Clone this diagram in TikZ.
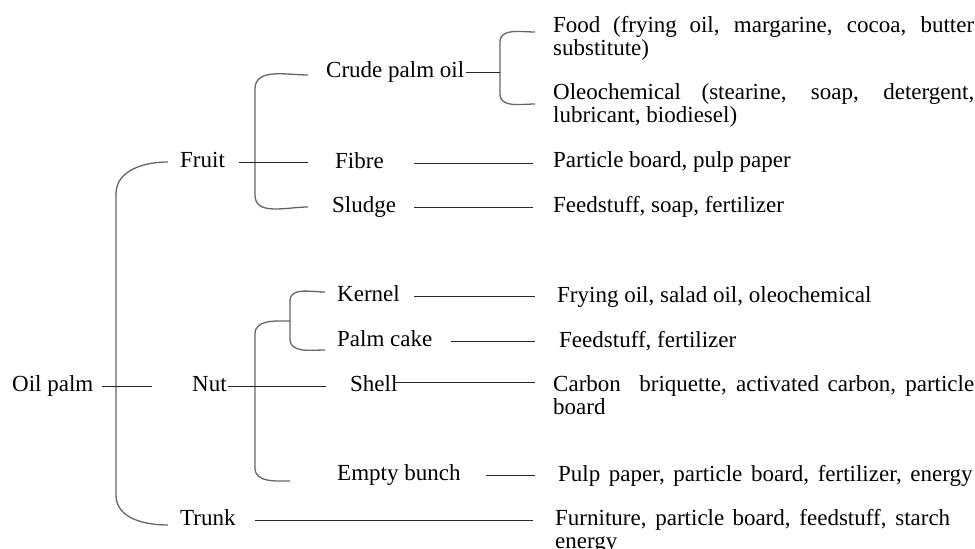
\documentclass[tikz,border=0pt]{standalone}
\usepackage{fontspec}
\setmainfont{Liberation Serif}
\hyphenpenalty=10000
\exhyphenpenalty=10000

\begin{document}
\begin{tikzpicture}[x=1pt,y=-1pt,
	txt/.style={anchor=base west,inner sep=0pt,font=\fontsize{23}{23}\selectfont},
	lbl/.style={txt,text height=15pt,text depth=5pt},
	desc/.style={txt,text width=#1,align=justify},
	link/.style={draw=black!85,line width=0.9pt},
	brace/.style={draw=black!60,line width=1.3pt}]
		\useasboundingbox (0,0) rectangle (975,549);
		% left side
		\node[lbl] (oilpalm) at (12,391) {Oil palm};
		\node[lbl] (fruit) at (180,167) {Fruit};
		\node[lbl] (nut) at (192,391) {Nut};
		\node[lbl] (trunk) at (180,525) {Trunk};
		\node[lbl] (crude) at (326,77) {Crude palm oil};
		\node[lbl] (fibre) at (335,168) {Fibre};
		\node[lbl] (sludge) at (332,212) {Sludge};
		\node[lbl] (kernel) at (337,301) {Kernel};
		\node[lbl] (palmcake) at (337,346) {Palm cake};
		\node[lbl] (shell) at (350,391) {Shell};
		\node[lbl] (bunch) at (337,480) {Empty bunch};
		% products
		\node[desc=421pt] (food) at (553,32) {Food (frying oil, margarine, cocoa, butter substitute)};
		\node[desc=421pt] (oleo) at (553,99) {Oleochemical (stearine, soap, detergent, lubricant, biodiesel)};
		\node[lbl] (particle) at (553,167) {Particle board, pulp paper};
		\node[lbl] (feedsoap) at (553,212) {Feedstuff, soap, fertilizer};
		\node[lbl] (frying) at (557,302) {Frying oil, salad oil, oleochemical};
		\node[lbl] (feedfert) at (559,347) {Feedstuff, fertilizer};
		\node[desc=421pt] (carbon) at (553,391) {Carbon\hspace{10pt} briquette, activated carbon, particle board};
		\node[lbl] (pulp) at (558,481) {\spaceskip=8.6pt Pulp paper, particle board, fertilizer, energy};
		\node[desc=395pt] (furniture) at (555,525) {Furniture, particle board, feedstuff, starch energy};
		% brackets
		\draw[brace] ([xshift=-12]fruit.west) to[out=180,in=90] ++(-52,32) -- ([shift={(-64,-25)}]trunk.west) to[out=-90,in=180] ([shift={(-12,5)}]trunk.west);
		\draw[brace] ([shift={(-18,3)}]crude.west) to[out=180,in=90] ++(-53,14) -- ([shift={(-77,-12)}]sludge.west) to[out=-90,in=180] ([xshift=-24]sludge.west);
		\draw[brace] ([xshift=-18]food.base west) to[out=180,in=90] ++(-35,10) -- ([shift={(-53,-5)}]oleo.base west) to[out=-90,in=180] ([shift={(-18,5)}]oleo.base west);
		\draw[brace] ([shift={(-47,25)}]kernel.west) to[out=180,in=90] ++(-35,13) -- ([shift={(-82,-7)}]bunch.west) to[out=-90,in=180] ([shift={(-47,6)}]bunch.west);
		\draw[brace] ([shift={(-12,-4)}]kernel.west) to[out=180,in=90] ++(-35,9) -- ([shift={(-47,-2)}]palmcake.west) to[out=-90,in=180] ([shift={(-12,9)}]palmcake.west);
		% links
		\draw[link] ([xshift=8]oilpalm.east) -- ([xshift=-40]nut.west |- oilpalm.east);
		\draw[link] ([xshift=14]fruit.east) -- ([xshift=-27]fibre.west |- fruit.east);
		\draw[link] ([xshift=1]nut.east) -- ([xshift=-24]shell.west |- nut.east);
		\draw[link] ([xshift=19]trunk.east) -- ([xshift=-22]furniture.west |- trunk.east);
		\draw[link] ([xshift=2]crude.east) -- ([xshift=-53]food.west |- crude.east);
		\draw[link] ([xshift=30]fibre.east) -- ([xshift=-20]particle.west |- fibre.east);
		\draw[link] ([xshift=18]sludge.east) -- ([xshift=-20]feedsoap.west |- sludge.east);
		\draw[link] ([xshift=14]kernel.east) -- ([xshift=-22]frying.west |- kernel.east);
		\draw[link] ([xshift=18]palmcake.east) -- ([xshift=-24]feedfert.west |- palmcake.east);
		\draw[link] ([shift={(-3,-4)}]shell.east) -- ([shift={(-18,-9)}]carbon.base west);
		\draw[link] ([xshift=25]bunch.east) -- ([xshift=-23]pulp.west |- bunch.east);
\end{tikzpicture}
\end{document}
